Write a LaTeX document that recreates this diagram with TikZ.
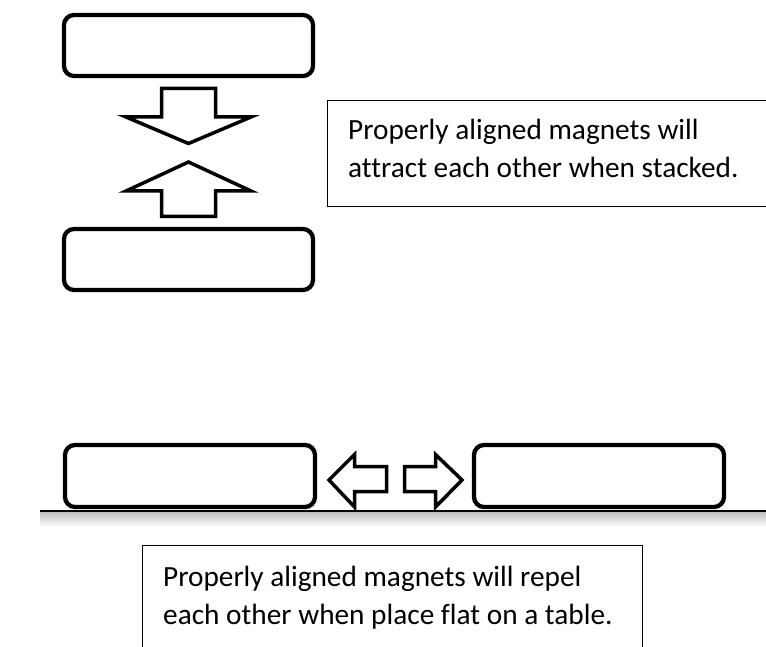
\documentclass[tikz,border=0pt]{standalone}
\usepackage{fontspec}
\setmainfont[Ligatures=NoCommon]{Carlito}
\begin{document}
\begin{tikzpicture}[x=1pt,y=-1pt,
  magnet/.style={draw=black,line width=4.3pt,rounded corners=10pt,fill=white},
  bigarrow/.style={draw=black,line width=3.5pt,fill=white,line join=miter},
  infobox/.style={draw=black,line width=1.3pt},
  infotext/.style={anchor=base west,inner sep=0pt,font=\fontsize{29.3}{38}\selectfont}]
\clip (0,0) rectangle (766,647);
\fill[white] (0,0) rectangle (766,647);
% stacked magnets
\draw[magnet] (64,15) rectangle (313,76);
\draw[magnet] (64,229) rectangle (313,290);
% down arrow
\draw[bigarrow] (161.5,88.5) -- (215.5,88.5) -- (215.5,117) -- (251,117) -- (188.5,143.5)
  -- (126,117) -- (161.5,117) -- cycle;
% up arrow
\draw[bigarrow] (161.5,216.5) -- (215.5,216.5) -- (215.5,191) -- (251,191) -- (188.5,162)
  -- (126,191) -- (161.5,191) -- cycle;
% info box 1
\draw[infobox] (780,100.5) -- (327.5,100.5) -- (327.5,206.5) -- (780,206.5);
\node[infotext] (t1a) at (348,140) {Properly aligned magnets will};
\node[infotext] (t1b) at (348,178) {attract each other when stacked.};
% table
\shade[top color=black!25,bottom color=white] (40,512) rectangle (766,527);
\draw[line width=2pt] (40,511) -- (766,511);
% flat magnets
\draw[magnet] (65,445) rectangle (315,507);
\draw[magnet] (474,445) rectangle (724,507);
% left arrow
\draw[bigarrow] (329,480) -- (354.5,454.5) -- (354.5,466.5) -- (386.5,466.5) -- (386.5,491.5)
  -- (354.5,491.5) -- (354.5,507) -- cycle;
% right arrow
\draw[bigarrow] (462,480) -- (435.5,454.5) -- (435.5,466.5) -- (404.5,466.5) -- (404.5,491.5)
  -- (435.5,491.5) -- (435.5,507) -- cycle;
% info box 2
\draw[infobox] (142.5,660) -- (142.5,545.5) -- (642.5,545.5) -- (642.5,660);
\node[infotext] (t2a) at (163,586) {Properly aligned magnets will repel};
\node[infotext] (t2b) at (163,624) {each other when place flat on a table.};
\end{tikzpicture}
\end{document}
